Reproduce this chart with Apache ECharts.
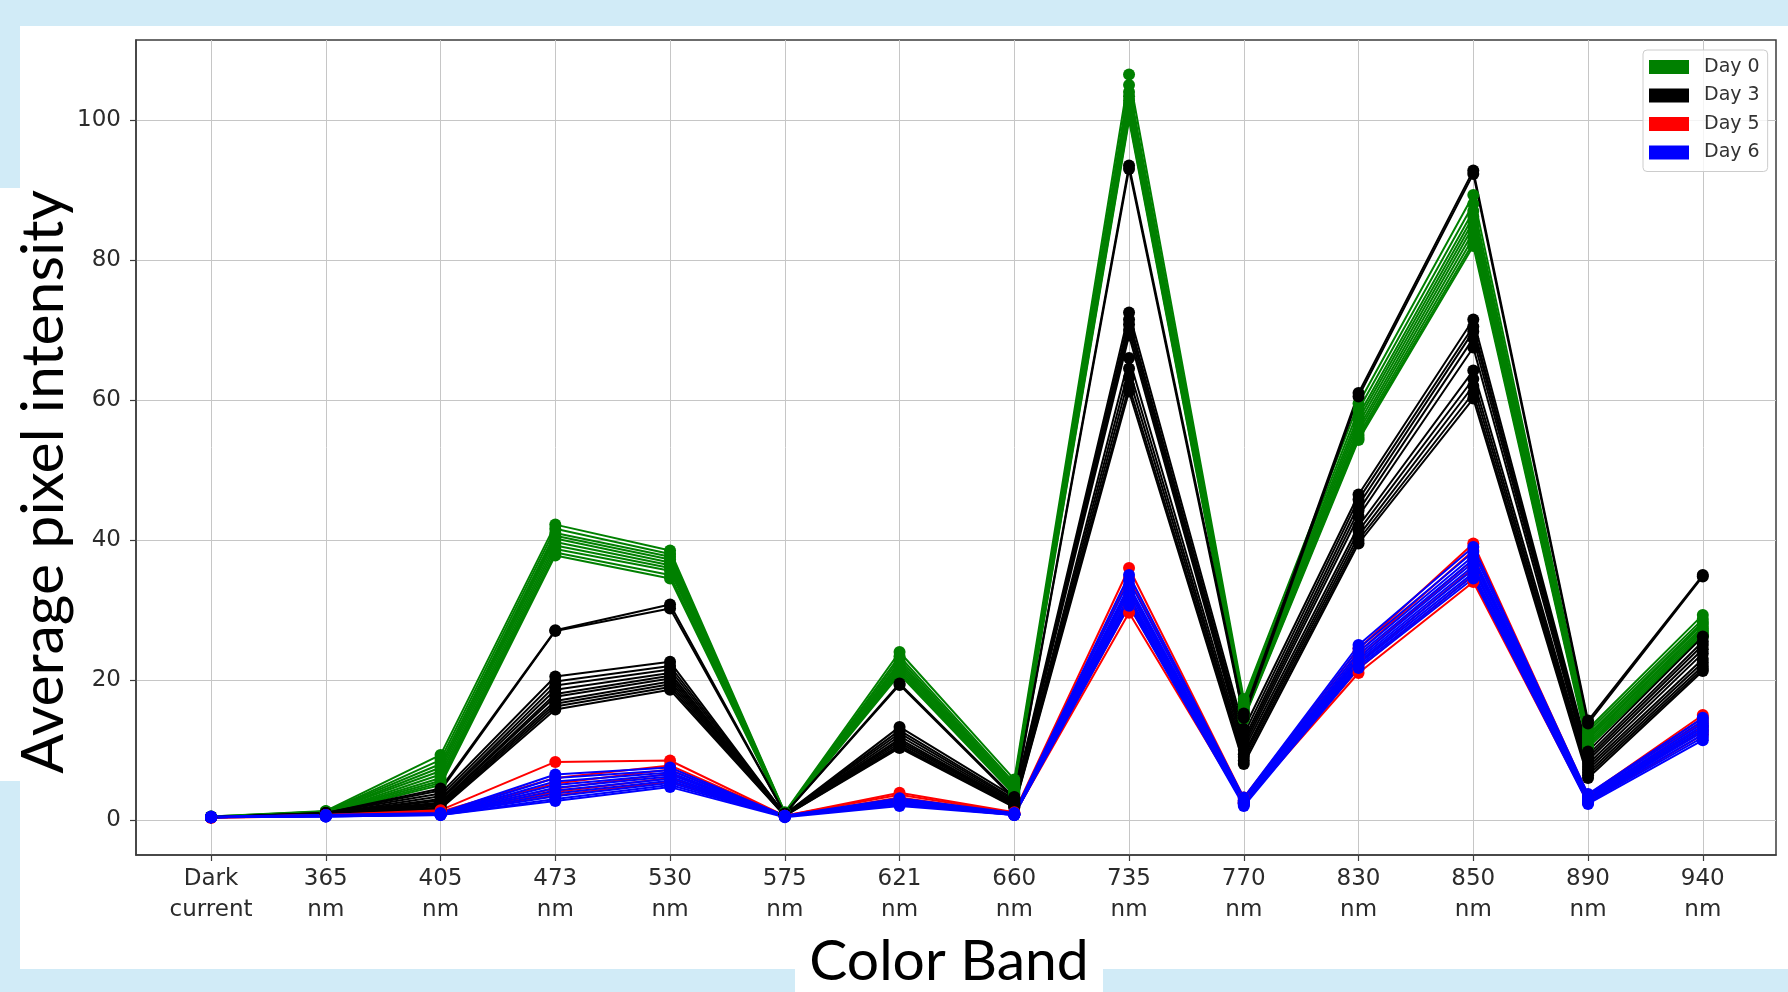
<!DOCTYPE html>
<html>
<head>
<meta charset="utf-8">
<script src="https://cdn.jsdelivr.net/npm/echarts@6/dist/echarts.min.js"></script>
<style>
  html, body { margin: 0; padding: 0; background: #d1ebf7; }
  #chart { width: 1788px; height: 992px; }
</style>
</head>
<body>
<div id="chart"></div>
<script>
// Spectral bands on the x axis
const bands = ['Dark\ncurrent', '365\nnm', '405\nnm', '473\nnm', '530\nnm', '575\nnm', '621\nnm',
               '660\nnm', '735\nnm', '770\nnm', '830\nnm', '850\nnm', '890\nnm', '940\nnm'];
const yTicks = [0, 20, 40, 60, 80, 100];
const dayNames = ['Day 0', 'Day 3', 'Day 5', 'Day 6'];

// Average pixel intensity per band, one row per sample
const day0 = [
  [0.5, 1.3, 9.3, 42.2, 38.5, 1.1, 24.0, 5.8, 106.5, 17.3, 59.5, 89.3, 13.0, 29.3],
  [0.5, 1.2, 8.6, 41.6, 38.0, 1.0, 23.4, 5.3, 105.0, 16.8, 58.6, 88.0, 12.6, 28.7],
  [0.4, 1.2, 8.0, 41.0, 37.6, 1.0, 23.0, 5.0, 104.0, 16.4, 57.8, 87.0, 12.2, 28.3],
  [0.4, 1.1, 7.5, 40.6, 37.2, 0.9, 22.6, 4.8, 103.4, 16.0, 57.2, 86.2, 12.0, 28.0],
  [0.4, 1.1, 7.0, 40.2, 36.8, 0.9, 22.3, 4.6, 102.8, 15.7, 56.6, 85.5, 11.7, 27.6],
  [0.4, 1.0, 6.5, 39.7, 36.4, 0.9, 22.0, 4.4, 102.2, 15.4, 56.0, 84.8, 11.5, 27.3],
  [0.4, 1.0, 6.0, 39.2, 36.0, 0.8, 21.7, 4.2, 101.6, 15.1, 55.5, 84.0, 11.2, 27.0],
  [0.4, 1.0, 5.6, 38.7, 35.6, 0.8, 21.4, 4.0, 101.0, 14.8, 55.0, 83.2, 10.9, 26.7],
  [0.4, 0.9, 5.3, 38.2, 35.0, 0.8, 21.1, 3.8, 100.4, 14.6, 54.6, 82.5, 10.6, 26.4],
  [0.4, 0.9, 5.0, 37.8, 34.5, 0.8, 20.8, 3.6, 100.0, 14.4, 54.3, 82.0, 10.3, 26.2]
];
const day3 = [
  [0.4, 1.0, 4.5, 27.1, 30.8, 0.9, 19.5, 3.2, 93.5, 15.2, 61.0, 92.8, 14.2, 35.0],
  [0.4, 1.0, 4.2, 27.0, 30.2, 0.9, 19.3, 3.0, 93.0, 14.6, 60.5, 92.3, 13.8, 34.8],
  [0.4, 1.0, 3.8, 20.5, 22.6, 0.8, 13.3, 3.3, 72.5, 13.0, 46.5, 71.5, 9.8, 26.2],
  [0.4, 0.9, 3.4, 19.8, 22.0, 0.8, 12.8, 3.0, 71.5, 12.2, 45.8, 70.5, 9.3, 25.5],
  [0.4, 0.9, 3.0, 19.2, 21.5, 0.8, 12.4, 2.8, 70.8, 11.5, 45.0, 69.8, 8.9, 25.0],
  [0.4, 0.9, 2.8, 18.6, 21.0, 0.7, 12.0, 2.6, 70.0, 11.0, 44.2, 68.8, 8.5, 24.4],
  [0.4, 0.9, 2.5, 18.0, 20.6, 0.7, 11.6, 2.4, 69.2, 10.5, 43.4, 67.5, 8.0, 23.8],
  [0.4, 0.9, 2.4, 17.6, 20.2, 0.7, 11.3, 2.3, 66.0, 10.0, 42.0, 64.2, 7.6, 23.0],
  [0.4, 0.8, 2.2, 17.0, 19.8, 0.7, 11.0, 2.2, 64.5, 9.4, 41.3, 63.0, 7.2, 22.5],
  [0.4, 0.8, 2.0, 16.6, 19.4, 0.7, 10.7, 2.0, 63.2, 9.0, 40.6, 62.0, 6.8, 22.0],
  [0.4, 0.8, 1.8, 16.2, 19.0, 0.6, 10.5, 1.9, 62.0, 8.5, 40.0, 61.0, 6.4, 21.6],
  [0.4, 0.8, 1.6, 15.8, 18.6, 0.6, 10.3, 1.8, 61.2, 8.0, 39.5, 60.2, 6.0, 21.3]
];
const day5 = [
  [0.4, 0.7, 1.4, 8.3, 8.5, 0.6, 3.9, 1.1, 36.0, 3.2, 24.5, 39.5, 3.6, 15.0],
  [0.4, 0.7, 1.2, 6.0, 7.8, 0.6, 3.6, 1.0, 34.5, 3.0, 24.0, 38.5, 3.4, 14.6],
  [0.4, 0.6, 1.1, 5.2, 7.2, 0.5, 3.2, 0.9, 33.0, 2.8, 23.2, 37.2, 3.1, 14.0],
  [0.4, 0.6, 1.0, 4.5, 6.6, 0.5, 2.9, 0.9, 31.8, 2.6, 22.4, 36.0, 2.9, 13.4],
  [0.4, 0.6, 1.0, 4.0, 6.0, 0.5, 2.7, 0.8, 30.6, 2.5, 21.6, 35.0, 2.7, 12.8],
  [0.3, 0.6, 0.9, 3.5, 5.5, 0.5, 2.5, 0.8, 29.6, 2.4, 21.0, 34.0, 2.5, 12.2]
];
const day6 = [
  [0.5, 0.7, 1.0, 6.5, 7.5, 0.6, 3.1, 1.0, 35.0, 3.2, 25.0, 39.0, 3.7, 14.6],
  [0.4, 0.7, 0.9, 6.0, 7.1, 0.6, 2.9, 0.9, 34.2, 3.0, 24.5, 38.3, 3.5, 14.2],
  [0.4, 0.6, 0.9, 5.5, 6.8, 0.5, 2.8, 0.9, 33.5, 2.8, 24.0, 37.7, 3.3, 13.8],
  [0.4, 0.6, 0.9, 5.0, 6.5, 0.5, 2.7, 0.8, 33.0, 2.7, 23.6, 37.2, 3.2, 13.5],
  [0.4, 0.6, 0.8, 4.6, 6.2, 0.5, 2.6, 0.8, 32.5, 2.6, 23.2, 36.8, 3.0, 13.2],
  [0.4, 0.6, 0.8, 4.2, 5.9, 0.5, 2.5, 0.8, 32.0, 2.5, 22.9, 36.3, 2.9, 12.9],
  [0.4, 0.6, 0.8, 3.8, 5.6, 0.5, 2.4, 0.8, 31.6, 2.4, 22.6, 35.8, 2.8, 12.6],
  [0.4, 0.5, 0.8, 3.4, 5.3, 0.5, 2.3, 0.7, 31.2, 2.3, 22.3, 35.3, 2.7, 12.2],
  [0.4, 0.5, 0.7, 3.0, 5.0, 0.5, 2.2, 0.7, 30.9, 2.2, 22.0, 34.9, 2.5, 11.8],
  [0.4, 0.5, 0.7, 2.7, 4.7, 0.4, 2.0, 0.7, 30.6, 2.0, 21.7, 34.5, 2.3, 11.4]
];

const groupColors = ['#008000', '#000000', '#ff0000', '#0000ff'];
const groupRows = [day0, day3, day5, day6];

const tickFont = 'DejaVu Sans';
const inkColor = '#2b2b2b';
const gridColor = '#c6c6c6';
const frameColor = '#3c3c3c';

// One line series per sample; samples of the same day share a legend entry
const series = [];
groupRows.forEach((rows, g) => {
  rows.forEach(row => {
    series.push({
      type: 'line',
      name: dayNames[g],
      data: row.map((v, i) => [i, v]),
      color: groupColors[g],
      lineStyle: { width: 2, color: groupColors[g] },
      itemStyle: { color: groupColors[g] },
      symbol: 'circle',
      symbolSize: 12,
      showSymbol: true,
      showAllSymbol: true,
      silent: true,
      z: 3
    });
  });
});

const chart = echarts.init(document.getElementById('chart'));
chart.setOption({
  animation: false,
  backgroundColor: '#d1ebf7',
  grid: {
    left: 136, right: 12, top: 40, bottom: 137,
    show: true, borderColor: frameColor, borderWidth: 1.5, backgroundColor: 'transparent'
  },
  xAxis: {
    type: 'value',
    min: -0.654, max: 13.638,
    minInterval: 1, maxInterval: 1,
    axisLine: { show: true, onZero: false, lineStyle: { color: frameColor, width: 1.5 } },
    axisTick: {
      show: true, inside: false, length: 6,
      customValues: bands.map((_, i) => i),
      lineStyle: { color: frameColor, width: 1.2 }
    },
    axisLabel: {
      customValues: bands.map((_, i) => i),
      formatter: v => (Number.isInteger(v) && bands[v] !== undefined) ? bands[v] : '',
      fontFamily: tickFont, fontSize: 23, lineHeight: 31, color: inkColor, margin: 9
    },
    splitLine: { show: true, lineStyle: { color: gridColor, width: 1 } }
  },
  yAxis: {
    type: 'value',
    min: -5, max: 111.43,
    minInterval: 20, maxInterval: 20,
    axisLine: { show: true, onZero: false, lineStyle: { color: frameColor, width: 1.5 } },
    axisTick: {
      show: true, inside: false, length: 6,
      customValues: yTicks,
      lineStyle: { color: frameColor, width: 1.2 }
    },
    axisLabel: {
      customValues: yTicks,
      formatter: v => (yTicks.indexOf(v) >= 0) ? String(v) : '',
      fontFamily: tickFont, fontSize: 23, color: inkColor, margin: 15
    },
    splitLine: { show: true, lineStyle: { color: gridColor, width: 1 } }
  },
  legend: {
    data: dayNames,
    orient: 'vertical',
    left: 1643, top: 50,
    icon: 'rect',
    itemWidth: 40, itemHeight: 14, itemGap: 8.5,
    padding: [7, 8, 9, 6],
    backgroundColor: 'rgba(255,255,255,0.8)',
    borderColor: '#cccccc', borderWidth: 1, borderRadius: 4,
    selectedMode: false,
    textStyle: { fontFamily: tickFont, fontSize: 19, lineHeight: 20, color: '#333333', padding: [0, 0, 0, 10] }
  },
  graphic: [
    // white panel behind the figure, with tabs behind the two axis titles
    { type: 'rect', z: -10, silent: true, shape: { x: 20, y: 26, width: 1768, height: 943 }, style: { fill: '#ffffff' } },
    { type: 'rect', z: -10, silent: true, shape: { x: 0, y: 188, width: 21, height: 593 }, style: { fill: '#ffffff' } },
    { type: 'rect', z: -10, silent: true, shape: { x: 795, y: 968, width: 308, height: 24 }, style: { fill: '#ffffff' } },
    {
      type: 'text', z: 100, silent: true,
      x: 44, y: 482, rotation: Math.PI / 2,
      style: { text: 'Average pixel intensity', font: '400 59px Lato', fill: '#000000', align: 'center', verticalAlign: 'middle' }
    },
    {
      type: 'text', z: 100, silent: true,
      x: 949, y: 962,
      style: { text: 'Color Band', font: '400 57px Lato', fill: '#000000', align: 'center', verticalAlign: 'middle' }
    }
  ],
  series: series
});
</script>
</body>
</html>
